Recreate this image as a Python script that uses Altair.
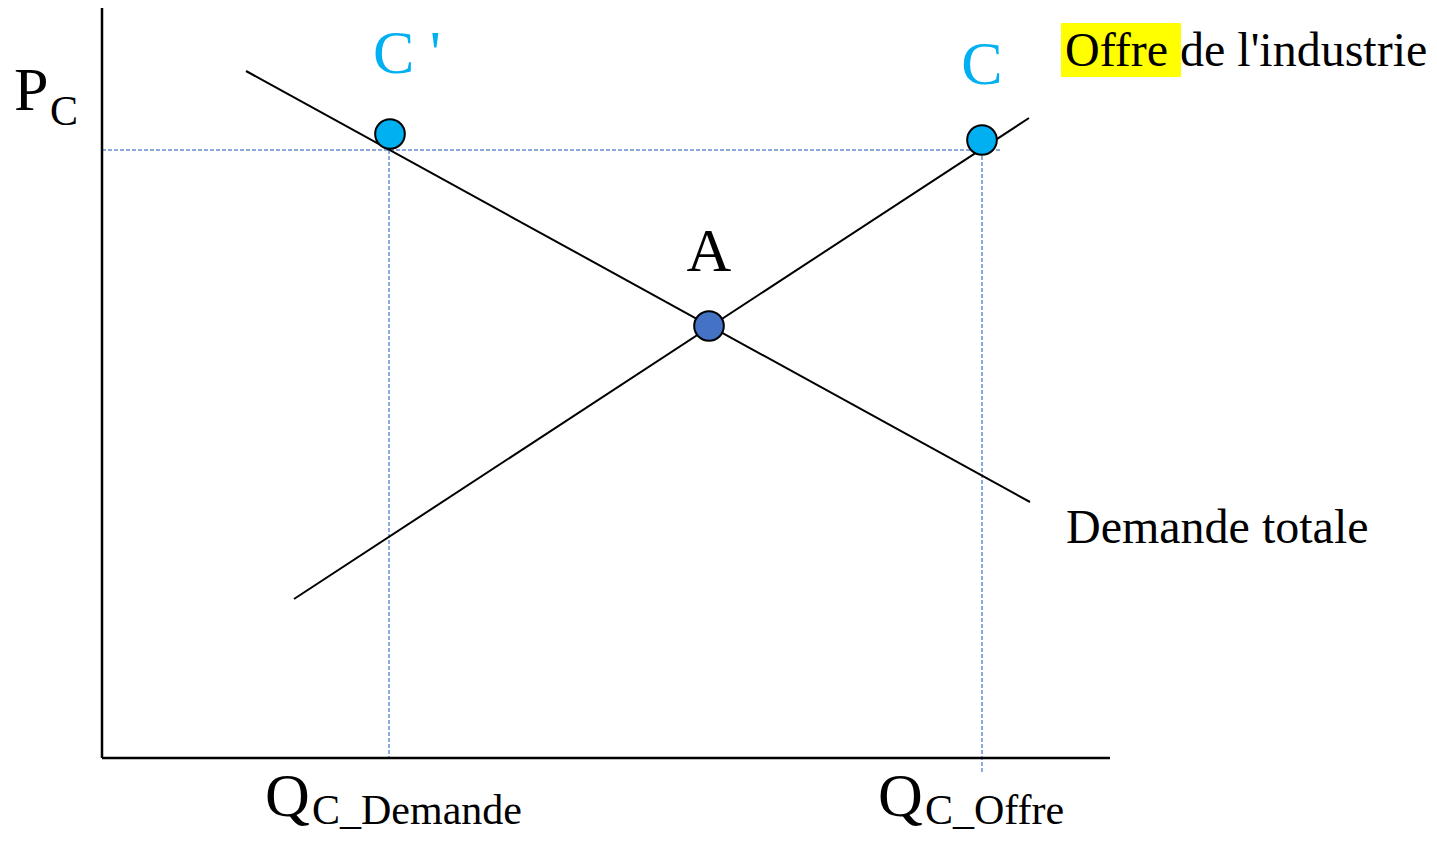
import altair as alt
import pandas as pd

# Curves (quantity, price) end points
demand_q = [144, 928]
demand_p = [687, 256]
supply_q = [192, 927]
supply_p = [159, 640]

# Axes extents
axis_q_max = 1008
axis_p_max = 751

# Reference price level and quantities
p_ref = 608
q_dem = 287
q_off = 880

# Points
pt_names = ["C '", "A", "C"]
pt_q = [288, 607, 880]
pt_p = [624, 432, 618]
pt_fill = ["#00B0F0", "#4472C4", "#00B0F0"]

# Labels
lab_text = ["C '", "A", "C"]
lab_q = [305, 607, 880]
lab_p = [685, 487, 674]
lab_color = ["#00B0F0", "black", "#00B0F0"]

big_text = ["P", "Q", "Q"]
big_q = [-88, 163, 776]
big_p = [648, -58, -58]
sub_text = ["C", "C_Demande", "C_Offre"]
sub_q = [-52, 210, 823]
sub_p = [633, -66, -66]

side_text = ["Offre de l'industrie", "Demande totale"]
side_q = [963, 964]
side_p = [692, 215]

hl_q = [959, 1079]
hl_p = [681, 735]

FONT = "Liberation Serif"
xs = alt.Scale(domain=[-94, 1327], nice=False, zero=False)
ys = alt.Scale(domain=[-76, 750], nice=False, zero=False)

axes_df = pd.DataFrame({
    "q1": [0, 0], "p1": [0, 0],
    "q2": [0, axis_q_max], "p2": [axis_p_max, 0],
})
curves_df = pd.DataFrame({
    "q1": [demand_q[0], supply_q[0]], "p1": [demand_p[0], supply_p[0]],
    "q2": [demand_q[1], supply_q[1]], "p2": [demand_p[1], supply_p[1]],
})
dash_df = pd.DataFrame({
    "q1": [0, q_dem, q_off], "p1": [p_ref, p_ref, p_ref],
    "q2": [898, q_dem, q_off], "p2": [p_ref, 0, -15],
})
pts_df = pd.DataFrame({"name": pt_names, "q": pt_q, "p": pt_p, "fill": pt_fill})
lab_df = pd.DataFrame({"t": lab_text, "q": lab_q, "p": lab_p, "c": lab_color})
big_df = pd.DataFrame({"t": big_text, "q": big_q, "p": big_p})
sub_df = pd.DataFrame({"t": sub_text, "q": sub_q, "p": sub_p})
side_df = pd.DataFrame({"t": side_text, "q": side_q, "p": side_p})
hl_df = pd.DataFrame({"q1": [hl_q[0]], "q2": [hl_q[1]], "p1": [hl_p[0]], "p2": [hl_p[1]]})


def seg(df, **kw):
    return alt.Chart(df).mark_rule(**kw).encode(
        x=alt.X("q1:Q", scale=xs, axis=None),
        y=alt.Y("p1:Q", scale=ys, axis=None),
        x2="q2:Q", y2="p2:Q",
    )

hl = alt.Chart(hl_df).mark_rect(color="#FFFF00").encode(
    x=alt.X("q1:Q", scale=xs, axis=None), x2="q2:Q",
    y=alt.Y("p1:Q", scale=ys, axis=None), y2="p2:Q",
)

dashes = seg(dash_df, color="#6A8CD6", strokeWidth=1.5, strokeDash=[4, 2])
axes = seg(axes_df, color="black", strokeWidth=2.5)
curves = seg(curves_df, color="black", strokeWidth=2)

points = alt.Chart(pts_df).mark_point(
    shape="circle", filled=True, size=880, stroke="black", strokeWidth=2, opacity=1
).encode(
    x=alt.X("q:Q", scale=xs, axis=None),
    y=alt.Y("p:Q", scale=ys, axis=None),
    fill=alt.Fill("fill:N", scale=None),
)

labels = alt.Chart(lab_df).mark_text(
    font=FONT, fontSize=62, align="center", baseline="alphabetic"
).encode(
    x=alt.X("q:Q", scale=xs, axis=None),
    y=alt.Y("p:Q", scale=ys, axis=None),
    text="t:N",
    color=alt.Color("c:N", scale=None),
)

big = alt.Chart(big_df).mark_text(
    font=FONT, fontSize=62, align="left", baseline="alphabetic", color="black"
).encode(
    x=alt.X("q:Q", scale=xs, axis=None),
    y=alt.Y("p:Q", scale=ys, axis=None),
    text="t:N",
)

sub = alt.Chart(sub_df).mark_text(
    font=FONT, fontSize=42, align="left", baseline="alphabetic", color="black"
).encode(
    x=alt.X("q:Q", scale=xs, axis=None),
    y=alt.Y("p:Q", scale=ys, axis=None),
    text="t:N",
)

side = alt.Chart(side_df).mark_text(
    font=FONT, fontSize=48, align="left", baseline="alphabetic", color="black"
).encode(
    x=alt.X("q:Q", scale=xs, axis=None),
    y=alt.Y("p:Q", scale=ys, axis=None),
    text="t:N",
)

chart = alt.layer(hl, dashes, axes, curves, points, labels, big, sub, side).properties(
    width=1421, height=826, padding=0,
    autosize=alt.AutoSizeParams(type="none"),
).configure_view(stroke=None)

chart.save("out.html", embed_options={"renderer": "svg", "actions": False})
